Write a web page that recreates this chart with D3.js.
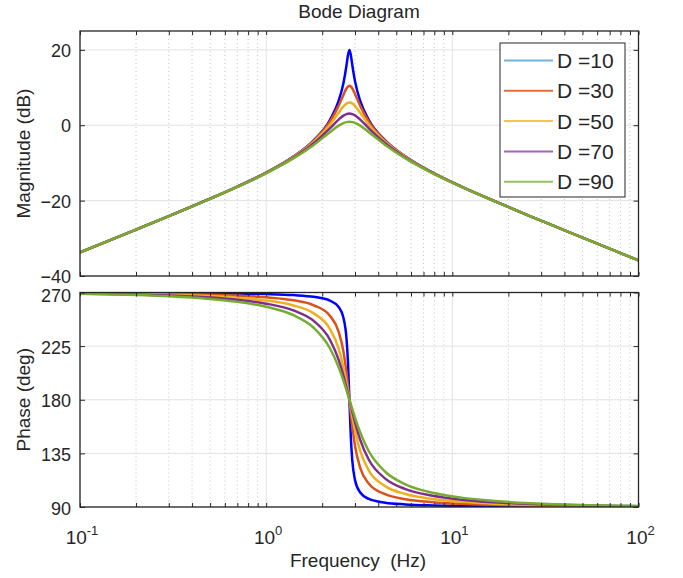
<!DOCTYPE html>
<html>
<head>
<meta charset="utf-8">
<script src="https://cdn.jsdelivr.net/npm/d3@7"></script>
<style>
body { margin: 0; background: #fff; }
svg text { font-family: "Liberation Sans", Arial, Helvetica, sans-serif; fill: #262626; }
</style>
</head>
<body>
<svg id="chart" width="683" height="578"></svg>
<script>
// values
const freqHz = [0.1, 0.2, 0.3, 0.5, 0.7, 1.0, 1.4, 1.8, 2.2, 2.45, 2.6, 2.7, 2.75, 2.8, 2.85, 2.9, 3.0, 3.2, 3.56, 4.36, 5.6, 7.84, 11.2, 15.7, 26.1, 39.2, 78.4, 100];

const legendLabels = ['D =10', 'D =30', 'D =50', 'D =70', 'D =90'];

const magD10 = [-33.73, -27.68, -24.10, -19.48, -16.28, -12.56, -8.33, -4.02, 1.39, 6.45, 11.16, 15.85, 18.56, 19.99, 18.60, 16.04, 11.70, 6.45, 1.39, -4.02, -8.33, -12.56, -16.28, -19.48, -24.10, -27.68, -33.73, -35.85];
const magD30 = [-33.73, -27.68, -24.10, -19.48, -16.29, -12.58, -8.38, -4.16, 0.93, 5.13, 8.05, 9.74, 10.26, 10.45, 10.27, 9.79, 8.30, 5.13, 0.93, -4.16, -8.38, -12.58, -16.29, -19.48, -24.10, -27.68, -33.73, -35.85];
const magD50 = [-33.73, -27.68, -24.10, -19.49, -16.31, -12.62, -8.48, -4.42, 0.15, 3.31, 4.99, 5.74, 5.94, 6.01, 5.95, 5.76, 5.11, 3.31, 0.15, -4.42, -8.48, -12.62, -16.31, -19.49, -24.10, -27.68, -33.73, -35.85];
const magD70 = [-33.73, -27.68, -24.11, -19.50, -16.33, -12.67, -8.63, -4.78, -0.82, 1.50, 2.54, 2.95, 3.05, 3.09, 3.06, 2.96, 2.61, 1.50, -0.82, -4.78, -8.63, -12.67, -16.33, -19.50, -24.11, -27.68, -33.73, -35.85];
const magD90 = [-33.73, -27.68, -24.11, -19.52, -16.36, -12.75, -8.81, -5.22, -1.84, -0.12, 0.57, 0.83, 0.89, 0.91, 0.89, 0.83, 0.62, -0.12, -1.84, -5.22, -8.81, -12.75, -16.36, -19.52, -24.11, -27.68, -33.73, -35.84];

const phaseD10 = [269.88, 269.76, 269.64, 269.39, 269.12, 268.65, 267.80, 266.39, 263.26, 257.86, 248.78, 231.63, 212.04, 180, 148.43, 129.37, 112.64, 102.14, 96.74, 93.61, 92.20, 91.35, 90.88, 90.61, 90.36, 90.24, 90.12, 90.09];
const phaseD30 = [269.65, 269.29, 268.93, 268.17, 267.36, 265.95, 263.43, 259.28, 250.46, 237.17, 220.65, 202.83, 191.78, 180, 168.42, 157.89, 141.37, 122.83, 109.54, 100.72, 96.57, 94.05, 92.64, 91.83, 91.07, 90.71, 90.35, 90.28];
const phaseD50 = [269.41, 268.82, 268.21, 266.96, 265.61, 263.28, 259.13, 252.49, 239.40, 222.92, 207.25, 194.18, 187.13, 180, 172.99, 166.30, 154.38, 137.08, 120.60, 107.51, 100.87, 96.72, 94.39, 93.04, 91.79, 91.18, 90.59, 90.46];
const phaseD70 = [269.17, 268.34, 267.50, 265.75, 263.86, 260.63, 254.96, 246.17, 230.38, 213.60, 200.20, 190.23, 185.11, 180, 174.98, 170.12, 161.09, 146.40, 129.62, 113.83, 105.04, 99.37, 96.14, 94.25, 92.50, 91.66, 90.83, 90.65];
const phaseD90 = [268.94, 267.87, 266.79, 264.54, 262.14, 258.03, 250.94, 240.43, 223.23, 207.34, 195.98, 187.99, 183.98, 180, 176.09, 172.28, 165.07, 152.66, 136.77, 119.57, 109.06, 101.97, 97.86, 95.46, 93.21, 92.13, 91.06, 90.83];

const magTicks = [-40, -20, 0, 20];
const phaseTicks = [90, 135, 180, 225, 270];
const freqTicks = [0.1, 1, 10, 100];
const freqTickExp = ['-1', '0', '1', '2'];

const magSeries = [magD10, magD30, magD50, magD70, magD90];
const phaseSeries = [phaseD10, phaseD30, phaseD50, phaseD70, phaseD90];
const lineColors = ['#0000ff', '#d95319', '#edb120', '#7e2f8e', '#77ac30'];
const legendColors = ['#6fb3e3', '#e8693a', '#f4c650', '#a266b8', '#92c25c'];

const svg = d3.select('#chart');
const left = 80, right = 638.5;

let x = d3.scaleLog().domain([0.1, 100]).range([left, right]);
let yMag = d3.scaleLinear().domain([-40, 25]).range([276, 31]);
let yPh = d3.scaleLinear().domain([90, 270]).range([507, 292.5]);

let minorTicks = x.ticks().filter(function(t){ return freqTicks.indexOf(t) < 0 });

function drawPanel(name, yScale, yTicks, series, labelShift) {
    let top = yScale.range()[1], bottom = yScale.range()[0];
    let g = svg.append('g').classed(name, true);

    g.append('clipPath').attr('id', 'clip-' + name)
        .append('rect')
        .attr('x', left).attr('y', top)
        .attr('width', right - left).attr('height', bottom - top);

    // grid
    g.append('g').selectAll('line').data(minorTicks).enter().append('line')
        .attr('x1', function(d){ return x(d) }).attr('x2', function(d){ return x(d) })
        .attr('y1', top).attr('y2', bottom)
        .attr('stroke', '#c4c4c4').attr('stroke-width', 1)
        .attr('stroke-dasharray', '1,3');
    g.append('g').selectAll('line').data(freqTicks).enter().append('line')
        .attr('x1', function(d){ return x(d) }).attr('x2', function(d){ return x(d) })
        .attr('y1', top).attr('y2', bottom)
        .attr('stroke', '#e2e2e2').attr('stroke-width', 1);
    g.append('g').selectAll('line').data(yTicks).enter().append('line')
        .attr('x1', left).attr('x2', right)
        .attr('y1', function(d){ return yScale(d) }).attr('y2', function(d){ return yScale(d) })
        .attr('stroke', '#e2e2e2').attr('stroke-width', 1);

    // curves
    let line = d3.line()
        .x(function(d, i){ return x(freqHz[i]) })
        .y(function(d){ return yScale(d) })
        .curve(d3.curveMonotoneX);
    g.append('g').attr('clip-path', 'url(#clip-' + name + ')')
        .selectAll('path').data(series).enter().append('path')
        .attr('d', line)
        .attr('fill', 'none')
        .attr('stroke', function(d, i){ return lineColors[i] })
        .attr('stroke-width', 2.5)
        .attr('stroke-linejoin', 'round');

    // axes with inward ticks
    let yAxis = d3.axisLeft(yScale).tickValues(yTicks).tickSizeInner(-5).tickSizeOuter(0).tickPadding(9);
    let ya = g.append('g').attr('transform', 'translate(' + left + ',0)').call(yAxis);
    ya.select('.domain').remove();
    ya.selectAll('text').attr('font-size', 18).style('font-family', null)
        .attr('dy', function(d){ return labelShift(d) });
    ya.selectAll('line').attr('stroke', '#262626');

    let yAxisR = d3.axisRight(yScale).tickValues(yTicks).tickSizeInner(-5).tickSizeOuter(0).tickFormat('');
    let yr = g.append('g').attr('transform', 'translate(' + right + ',0)').call(yAxisR);
    yr.select('.domain').remove();
    yr.selectAll('line').attr('stroke', '#262626');

    let xAxisB = d3.axisBottom(x).tickValues(x.ticks()).tickSizeInner(-4).tickSizeOuter(0).tickFormat('');
    let xb = g.append('g').attr('transform', 'translate(0,' + bottom + ')').call(xAxisB);
    xb.select('.domain').remove();
    xb.selectAll('line').attr('stroke', '#262626');
    let xAxisT = d3.axisTop(x).tickValues(x.ticks()).tickSizeInner(-4).tickSizeOuter(0).tickFormat('');
    let xt = g.append('g').attr('transform', 'translate(0,' + top + ')').call(xAxisT);
    xt.select('.domain').remove();
    xt.selectAll('line').attr('stroke', '#262626');

    g.append('rect')
        .attr('x', left).attr('y', top)
        .attr('width', right - left).attr('height', bottom - top)
        .attr('fill', 'none').attr('stroke', '#262626').attr('stroke-width', 1.3);
    return g;
}

drawPanel('mag', yMag, magTicks, magSeries, function(d){ return '0.36em' });
drawPanel('phase', yPh, phaseTicks, phaseSeries, function(d){ return d === 270 ? '0.5em' : '0.4em' });

// frequency tick labels with exponents
let labels = svg.append('g').selectAll('text').data(freqTicks).enter().append('text')
    .attr('x', function(d){ return x(d) + 2 })
    .attr('y', 544)
    .attr('text-anchor', 'middle')
    .attr('font-size', 19);
labels.append('tspan').text('10');
labels.append('tspan').attr('dy', -9).attr('font-size', 13)
    .text(function(d, i){ return freqTickExp[i] });

// titles
svg.append('text').attr('x', 359).attr('y', 18).attr('text-anchor', 'middle')
    .attr('font-size', 19).text('Bode Diagram');
svg.append('text').attr('x', 358).attr('y', 567).attr('text-anchor', 'middle')
    .attr('font-size', 19).style('white-space', 'pre').text('Frequency  (Hz)');
svg.append('text').attr('transform', 'translate(23,' + ((yMag.range()[0] + yMag.range()[1]) / 2) + ') rotate(-90)')
    .attr('text-anchor', 'middle').attr('dy', '0.35em')
    .attr('font-size', 19).text('Magnitude (dB)');
svg.append('text').attr('transform', 'translate(23,' + ((yPh.range()[0] + yPh.range()[1]) / 2) + ') rotate(-90)')
    .attr('text-anchor', 'middle').attr('dy', '0.35em')
    .attr('font-size', 19).text('Phase (deg)');

// legend
let legend = svg.append('g').attr('transform', 'translate(500,43)');
legend.append('rect').attr('width', 125).attr('height', 154)
    .attr('fill', '#fff').attr('stroke', '#262626').attr('stroke-width', 1);
let rows = legend.selectAll('g.row').data(legendLabels).enter().append('g')
    .classed('row', true)
    .attr('transform', function(d, i){ return 'translate(0,' + (17.5 + i * 30.3) + ')' });
rows.append('line').attr('x1', 4).attr('x2', 53)
    .attr('stroke', function(d, i){ return legendColors[i] }).attr('stroke-width', 2);
rows.append('text').attr('x', 57).attr('dy', '0.36em')
    .attr('font-size', 21).text(function(d){ return d });
</script>
</body>
</html>
